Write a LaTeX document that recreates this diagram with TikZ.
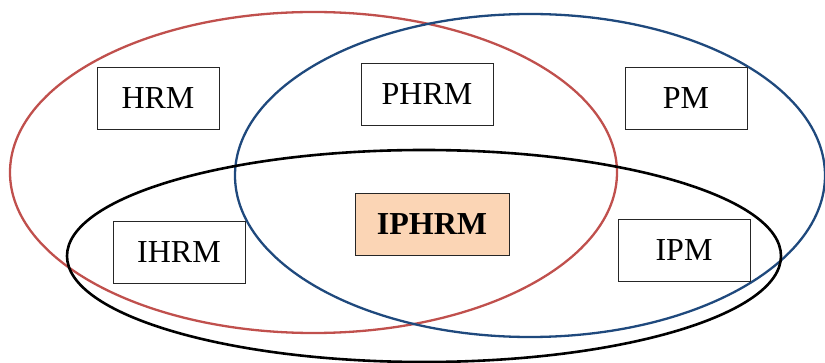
\documentclass[tikz,border=0pt]{standalone}
\usepackage{fontspec}
\setmainfont{Liberation Serif}
\definecolor{redc}{RGB}{192,80,77}
\definecolor{bluec}{RGB}{31,73,125}
\definecolor{peach}{RGB}{251,213,181}
\begin{document}
\begin{tikzpicture}[x=1pt,y=-1pt,
  lbl/.style={draw=black!85,line width=0.9pt,minimum height=62pt,inner sep=0pt,font=\fontsize{32}{34}\selectfont}]
\useasboundingbox (0,0) rectangle (825,363);
\draw[redc,line width=2.3pt] (313.5,172.5) ellipse [x radius=303.5,y radius=160.5];
\draw[bluec,line width=2.3pt] (530,175.5) ellipse [x radius=295,y radius=161.5];
\draw[black,line width=2.6pt] (424,256) ellipse [x radius=357,y radius=106];
\node[lbl,minimum width=122pt] (hrm) at (158,98.5) {HRM};
\node[lbl,minimum width=132pt] (phrm) at (427,94) {PHRM};
\node[lbl,minimum width=122pt] (pm) at (686,98.5) {PM};
\node[lbl,minimum width=154pt,fill=peach,font=\fontsize{32}{34}\selectfont\bfseries] (iphrm) at (432,224) {IPHRM};
\node[lbl,minimum width=132pt] (ihrm) at (179,252) {IHRM};
\node[lbl,minimum width=132pt] (ipm) at (684,250) {IPM};
\end{tikzpicture}
\end{document}
